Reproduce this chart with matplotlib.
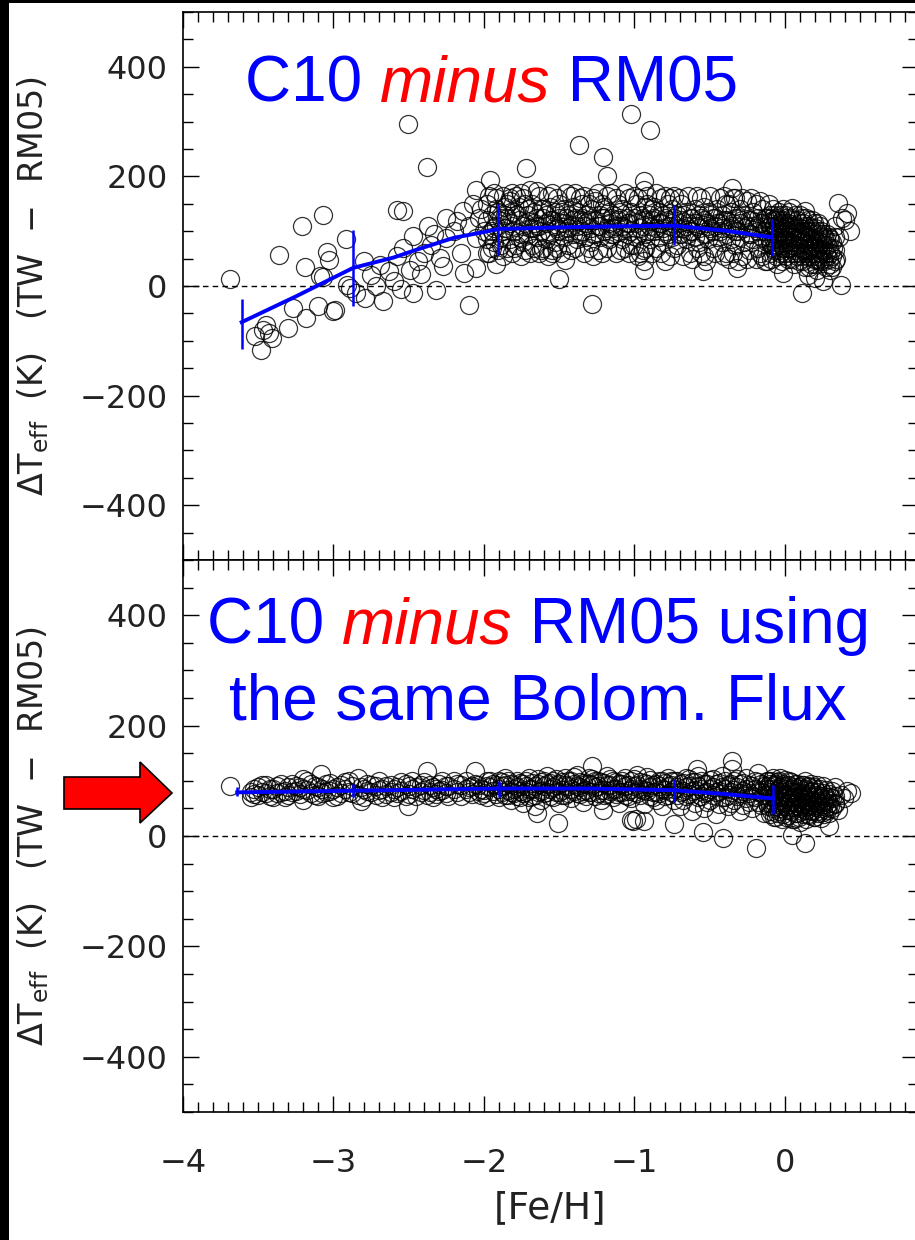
import numpy as np
import matplotlib
matplotlib.use('Agg')
import matplotlib.pyplot as plt
from matplotlib.patches import Rectangle, Polygon
from matplotlib.ticker import MultipleLocator

# Teff differences C10 - RM05 against [Fe/H]

# top panel: scattered stars (one value each)
top_feh = [-3.69, -3.36, -3.21, -3.07, -3.19, -3.04, -3.03, -2.92, -3.07, -3.09,
           -2.91, -2.89, -2.80, -2.79, -2.67, -2.69, -2.85, -3.27, -3.10, -3.18,
           -3.00, -2.99, -3.30, -3.45, -3.52, -3.41, -3.48, -3.47, -3.43, -2.58,
           -2.54, -2.47, -2.54, -2.58, -2.63, -2.49, -2.47, -2.42, -2.37, -2.32,
           -2.29, -2.25, -2.25, -2.27, -2.18, -2.14, -2.10, -2.13, -2.05, -2.07,
           -2.03, -2.05, -2.05, -2.505, -2.38, -2.75, -2.72, -2.60, -2.55, -2.40,
           -2.35, -2.20, -2.15, -2.10, -2.02, -2.00, -2.33, -2.44,
           -1.96, -1.65, -1.83, -1.72, -1.37, -1.21, -1.18, -1.02, -0.90, -0.94,
           -0.94, -1.50, -1.28, -0.94, -0.94, -0.80, -1.46, -1.55,
           -0.35, -0.33, -0.545, -0.32, -0.12,
           0.35, 0.41, 0.38, 0.05, 0.13, 0.11, 0.37, 0.25, -0.01, 0.33,
           0.36, 0.32, 0.40, 0.34, 0.20, 0.15, 0.43, 0.30]
top_dt = [13, 57, 110, 129, 34, 62, 48, 86, 16, 18,
          2, -4, 45, -22, -27, 39, -13, -40, -37, -58,
          -46, -43, -77, -71, -92, -95, -116, -80, -85, 139,
          136, 91, 69, 54, 27, 30, -13, 21, 109, -7,
          51, 124, 88, 36, 118, 136, -34, 24, 176, 149,
          124, 88, 33, 296, 217, 20, 0, 10, -5, 60,
          75, 100, 60, 110, 140, 100, 95, 45,
          194, 173, 161, 215, 258, 235, 200, 313, 285, 191,
          176, 12, -33, 30, 45, 46, 48, 60,
          179, 161, 27, 33, 45,
          152, 133, 125, 142, 137, -13, 2, 9, 24, 110,
          90, 70, 120, 50, 15, 20, 100, 30]

# top panel: dense band, [Fe/H] column -> values in that column
top_cols = [
    (-1.98, [150, 120, 85, 60]), (-1.95, [130, 100, 70]), (-1.92, [160, 110, 140, 40]),
    (-1.89, [125, 90, 75]), (-1.86, [145, 105, 130]), (-1.83, [115, 85, 155]),
    (-1.80, [135, 100, 70]), (-1.77, [120, 145, 90]), (-1.74, [110, 160, 80]),
    (-1.71, [130, 95, 140]), (-1.68, [105, 150, 75]), (-1.65, [125, 90, 110]),
    (-1.62, [140, 100, 65]), (-1.59, [115, 130, 85]), (-1.56, [95, 145, 120]),
    (-1.53, [110, 80, 135]), (-1.50, [125, 100, 150]), (-1.47, [90, 115, 140]),
    (-1.44, [130, 105, 75]), (-1.41, [120, 95, 145]), (-1.38, [110, 135, 85]),
    (-1.35, [100, 125, 150]), (-1.32, [115, 90, 130]), (-1.29, [105, 140, 80]),
    (-1.26, [120, 95, 155]), (-1.23, [110, 130, 90]), (-1.20, [100, 125, 145]),
    (-1.17, [115, 85, 135]), (-1.14, [105, 130, 95]), (-1.11, [120, 100, 150]),
    (-1.08, [110, 140, 85]), (-1.05, [125, 95, 115]), (-1.02, [100, 135, 75]),
    (-0.99, [115, 150, 90]), (-0.96, [130, 105, 60]), (-0.93, [120, 145, 95, 70]),
    (-0.90, [110, 130, 85]), (-0.87, [125, 100, 145]), (-0.84, [115, 90, 135]),
    (-0.81, [105, 130, 80]), (-0.78, [120, 150, 95]),
    (-0.75, [115, 90, 140]), (-0.72, [105, 130, 75]), (-0.69, [120, 95, 150]),
    (-0.66, [110, 85, 135]), (-0.63, [100, 125, 60]), (-0.60, [115, 140, 90]),
    (-0.57, [105, 80, 130]), (-0.54, [120, 95, 145, 55]), (-0.51, [110, 85, 135]),
    (-0.48, [100, 125, 70]), (-0.45, [115, 90, 140]), (-0.42, [105, 130, 80]),
    (-0.39, [95, 120, 150, 60]), (-0.36, [110, 85, 135]), (-0.33, [100, 125, 75]),
    (-0.30, [115, 90, 140]), (-0.27, [105, 80, 130]), (-0.24, [95, 120, 65]),
    (-0.21, [110, 85, 135]), (-0.18, [100, 125, 70]), (-0.15, [90, 115, 140, 55]),
    (-0.12, [105, 80, 125]),
    (-0.10, [110, 80, 130, 60]), (-0.08, [95, 70, 120, 140]), (-0.06, [105, 85, 55, 125]),
    (-0.04, [90, 115, 65, 135]), (-0.02, [100, 75, 120, 45]), (0.00, [85, 110, 60, 130, 95]),
    (0.02, [95, 70, 115, 50]), (0.04, [80, 105, 125, 60]), (0.06, [90, 65, 110, 40]),
    (0.08, [100, 75, 120, 55]), (0.10, [85, 60, 105, 130]), (0.12, [95, 70, 115, 45]),
    (0.14, [80, 100, 60, 125]), (0.16, [90, 65, 110, 35]), (0.18, [75, 100, 55, 120]),
    (0.20, [85, 60, 105, 40]), (0.22, [70, 95, 50, 115]), (0.24, [80, 60, 100]),
    (0.26, [65, 90, 45]), (0.28, [75, 55, 95]), (0.30, [60, 85, 40]),
]
# second layer of the same band (stars in between the columns above)
top_cols_b = [
    (-1.965, [165, 95, 60]), (-1.935, [105, 170, 80]), (-1.905, [120, 65, 135]),
    (-1.875, [100, 165, 55]), (-1.845, [125, 70, 150]), (-1.815, [110, 170, 60]),
    (-1.785, [130, 75, 165]), (-1.755, [95, 170, 55]), (-1.725, [115, 150, 65]),
    (-1.695, [105, 175, 60]), (-1.665, [135, 70, 115]), (-1.635, [110, 165, 60]),
    (-1.605, [125, 70, 140]), (-1.575, [100, 165, 55]), (-1.545, [120, 65, 170]),
    (-1.515, [105, 160, 70]), (-1.485, [115, 60, 135]), (-1.455, [100, 125, 170]),
    (-1.425, [110, 165, 65]), (-1.395, [125, 70, 170]), (-1.365, [95, 120, 160]),
    (-1.335, [110, 165, 60]), (-1.305, [120, 70, 150]), (-1.275, [95, 160, 55]),
    (-1.245, [110, 170, 65]), (-1.215, [125, 60, 150]), (-1.185, [105, 165, 70]),
    (-1.155, [95, 125, 170]), (-1.125, [110, 160, 60]), (-1.095, [125, 65, 135]),
    (-1.065, [105, 170, 70]), (-1.035, [115, 60, 160]), (-1.005, [125, 75, 165]),
    (-0.975, [95, 160, 55]), (-0.945, [110, 125, 65]), (-0.915, [100, 165, 150]),
    (-0.885, [120, 60, 140]), (-0.855, [105, 170, 70]), (-0.825, [115, 60, 160]),
    (-0.795, [100, 125, 165]), (-0.765, [110, 160, 55]), (-0.735, [125, 70, 165]),
    (-0.705, [95, 115, 160]), (-0.675, [130, 105, 55]), (-0.645, [115, 165, 95]),
    (-0.615, [100, 125, 50]), (-0.585, [110, 165, 70]), (-0.555, [125, 60, 160]),
    (-0.525, [95, 115, 45]), (-0.495, [130, 105, 165]), (-0.465, [110, 60, 125]),
    (-0.435, [100, 160, 115]), (-0.405, [120, 55, 165]), (-0.375, [105, 150, 50]),
    (-0.345, [115, 60, 160]), (-0.315, [100, 125, 45]), (-0.285, [120, 55, 160]),
    (-0.255, [110, 155, 50]), (-0.225, [95, 120, 160]), (-0.195, [105, 150, 50]),
    (-0.165, [115, 60, 155]), (-0.135, [100, 125, 45]), (-0.105, [90, 115, 150]),
    (-0.09, [100, 75, 125, 50]), (-0.07, [85, 110, 65, 130]), (-0.05, [95, 75, 120, 40]),
    (-0.03, [105, 80, 130, 60]), (-0.01, [90, 70, 115, 140]), (0.01, [100, 80, 125, 55]),
    (0.03, [90, 70, 110, 135]), (0.05, [95, 75, 120, 50]), (0.07, [85, 105, 60, 130]),
    (0.09, [90, 70, 115, 45]), (0.11, [80, 100, 55, 125]), (0.13, [90, 65, 110, 35]),
    (0.15, [75, 100, 55, 120]), (0.17, [85, 60, 105, 40]), (0.19, [70, 95, 50, 115]),
    (0.21, [80, 55, 100, 30]), (0.23, [65, 90, 45, 110]), (0.25, [75, 50, 95]),
    (0.27, [60, 85, 35]), (0.29, [70, 50, 90]), (0.31, [55, 80, 35]), (0.33, [65, 45, 90]),
]

# bottom panel (same bolometric flux): scattered stars
bot_feh = [-3.69, -3.08, -2.505, -2.38, -2.06,
           -1.51, -1.65, -1.28, -1.02, -0.99, -1.21, -0.94, -1.01, -0.74,
           -0.585, -0.35, -0.35, -0.18,
           0.05, 0.13, 0.29, 0.41, 0.37, 0.35, 0.33, 0.39, 0.44,
           -0.19, -0.41, -0.545]
bot_dt = [90, 113, 55, 118, 118,
          24, 42, 127, 29, 31, 47, 27, 27, 21,
          121, 136, 121, 115,
          2, -13, 18, 81, 75, 47, 60, 68, 78,
          -22, -4, 8]

bot_cols = [
    (-3.55, [80, 70]), (-3.50, [88, 75]), (-3.45, [78, 92]), (-3.40, [85, 70]),
    (-3.35, [95, 80]), (-3.30, [75, 88]), (-3.25, [90, 82]), (-3.20, [104, 66, 85]),
    (-3.15, [78, 95]), (-3.10, [88, 72]), (-3.05, [80, 95]), (-3.00, [85, 70]),
    (-2.95, [92, 78]), (-2.90, [80, 100]), (-2.84, [105, 75]), (-2.82, [63, 88]),
    (-2.78, [82, 95]), (-2.72, [75, 90]), (-2.68, [85, 70]), (-2.62, [92, 80]),
    (-2.58, [78, 88]), (-2.52, [95, 72]), (-2.48, [85, 100]), (-2.42, [80, 92]),
    (-2.38, [75]), (-2.34, [88, 70]), (-2.30, [95, 82]), (-2.25, [78, 90]),
    (-2.20, [100, 85]), (-2.15, [72, 92]), (-2.10, [88, 80]), (-2.06, [95]),
    (-2.02, [75, 85]), (-1.98, [90, 70, 100]), (-1.94, [82, 95]),
    (-1.90, [85, 100, 70]), (-1.86, [92, 75, 105]), (-1.82, [80, 95, 65]),
    (-1.78, [88, 100, 72]), (-1.74, [95, 78, 60]), (-1.70, [85, 105, 70]),
    (-1.66, [90, 75, 55]), (-1.62, [82, 98, 65]), (-1.58, [95, 80, 108]),
    (-1.54, [88, 70, 100]), (-1.50, [80, 95, 60]), (-1.46, [92, 75, 105]),
    (-1.42, [85, 100, 68]), (-1.38, [90, 78, 110]), (-1.34, [82, 96, 62]),
    (-1.30, [95, 80, 105]), (-1.26, [88, 72, 100]), (-1.22, [84, 98, 65]),
    (-1.18, [92, 76, 108]), (-1.14, [86, 100, 70]), (-1.10, [80, 95, 60]),
    (-1.06, [90, 75, 105]), (-1.02, [85, 100, 68]), (-0.98, [92, 78, 110]),
    (-0.94, [84, 96, 58]), (-0.90, [88, 72, 102]), (-0.86, [95, 80, 65]),
    (-0.82, [86, 100, 55]), (-0.78, [90, 75, 105]),
    (-0.74, [85, 100, 65]), (-0.70, [80, 95, 55]), (-0.66, [88, 72, 105]),
    (-0.62, [82, 98, 45]), (-0.58, [90, 70, 108]), (-0.54, [78, 95, 50]),
    (-0.50, [86, 65, 102]), (-0.46, [80, 95, 40]), (-0.42, [88, 70, 108]),
    (-0.38, [75, 92, 55]), (-0.34, [84, 65, 100]), (-0.30, [78, 95, 45]),
    (-0.26, [86, 68, 105]), (-0.22, [72, 90, 50]), (-0.18, [80, 62, 98]),
    (-0.14, [74, 90, 42]), (-0.12, [85, 60, 100]),
    (-0.10, [80, 60, 95, 40]), (-0.08, [70, 90, 50, 105]), (-0.06, [78, 55, 95, 35]),
    (-0.04, [65, 85, 45, 100]), (-0.02, [75, 55, 90, 30]), (0.00, [68, 85, 48, 102]),
    (0.02, [72, 58, 92, 38]), (0.04, [62, 80, 45, 98]), (0.06, [70, 52, 88, 30]),
    (0.08, [60, 78, 42, 95]), (0.10, [68, 50, 85, 25]), (0.12, [58, 75, 40, 92]),
    (0.14, [65, 48, 82, 30]), (0.16, [55, 72, 38, 88]), (0.18, [62, 45, 80]),
    (0.20, [52, 70, 35, 85]), (0.22, [60, 42, 75]), (0.24, [50, 68, 32]),
    (0.26, [58, 40, 72]), (0.28, [48, 65]), (0.30, [55, 70]),
]
bot_cols_b = [
    (-3.525, [85, 76]), (-3.475, [80, 92]), (-3.425, [72, 86]), (-3.375, [90, 78]),
    (-3.325, [82, 70]), (-3.275, [95, 80]), (-3.225, [76, 88]), (-3.175, [84, 100]),
    (-3.125, [90, 74]), (-3.075, [78, 86]), (-3.025, [96, 82]), (-2.975, [72, 88]),
    (-2.925, [85, 98]), (-2.875, [78, 90]), (-2.80, [70, 85]), (-2.75, [92, 80]),
    (-2.70, [84, 100]), (-2.65, [76, 90]), (-2.60, [86, 70]), (-2.55, [82, 98]),
    (-2.50, [90, 76]), (-2.45, [72, 88]), (-2.40, [84, 98]), (-2.36, [92, 80]),
    (-2.32, [76, 86]), (-2.28, [84, 100]), (-2.24, [90, 72]), (-2.18, [80, 95]),
    (-2.12, [86, 100]), (-2.08, [76, 90]), (-2.04, [92, 82]), (-2.00, [84, 78]),
    (-1.96, [100, 88]), (-1.92, [76, 92]),
    (-1.88, [90, 80, 98]), (-1.84, [84, 100, 74]), (-1.80, [92, 78, 86]),
    (-1.76, [82, 96, 70]), (-1.72, [90, 100, 80]), (-1.68, [86, 72, 96]),
    (-1.64, [94, 80, 104]), (-1.60, [78, 90, 100]), (-1.56, [86, 96, 72]),
    (-1.52, [92, 80, 104]), (-1.48, [84, 98, 74]), (-1.44, [90, 78, 100]),
    (-1.40, [82, 94, 106]), (-1.36, [88, 76, 98]), (-1.32, [94, 84, 72]),
    (-1.28, [80, 92, 104]), (-1.24, [90, 78, 100]), (-1.20, [84, 96, 74]),
    (-1.16, [92, 82, 104]), (-1.12, [86, 98, 76]), (-1.08, [94, 80, 100]),
    (-1.04, [82, 92, 72]), (-1.00, [90, 104, 80]), (-0.96, [86, 74, 98]),
    (-0.92, [94, 82, 106]), (-0.88, [80, 92, 70]), (-0.84, [90, 100, 78]),
    (-0.80, [84, 96, 72]), (-0.76, [92, 80, 100]),
    (-0.72, [88, 74, 100]), (-0.68, [82, 96, 66]), (-0.64, [90, 76, 104]),
    (-0.60, [84, 98, 60]), (-0.56, [86, 72, 100]), (-0.52, [80, 94, 62]),
    (-0.48, [88, 74, 104]), (-0.44, [82, 96, 58]), (-0.40, [86, 70, 100]),
    (-0.36, [80, 94, 60]), (-0.32, [88, 72, 104]), (-0.28, [82, 96, 56]),
    (-0.24, [78, 92, 62]), (-0.20, [86, 70, 100]), (-0.16, [80, 94, 56]),
    (-0.11, [75, 90, 55, 100]), (-0.09, [85, 65, 100, 45]), (-0.07, [72, 92, 55, 35]),
    (-0.05, [82, 62, 98, 42]), (-0.03, [70, 88, 50, 105]), (-0.01, [80, 62, 95, 40]),
    (0.01, [74, 90, 55, 35]), (0.03, [84, 66, 100, 48]), (0.05, [70, 86, 52, 30]),
    (0.07, [80, 62, 95, 42]), (0.09, [72, 88, 55, 35]), (0.11, [78, 60, 92, 45]),
    (0.13, [70, 85, 52, 100]), (0.15, [76, 58, 90, 40]), (0.17, [66, 82, 48, 95]),
    (0.19, [74, 56, 88, 35]), (0.21, [64, 80, 46, 92]), (0.23, [72, 54, 86]),
    (0.25, [62, 78, 44, 90]), (0.27, [70, 52, 84]), (0.29, [60, 76, 42]),
    (0.31, [68, 50, 82]), (0.33, [58, 72, 88]),
]

# blue mean relations with error bars at the knots
top_fit_feh = [-3.61, -3.25, -2.87, -2.6, -2.45, -2.2, -2.01, -1.905, -1.5, -1.1, -0.735, -0.4, -0.089]
top_fit_dt = [-66, -19, 33, 52, 66, 88, 98, 104, 107, 109, 110, 101, 89]
top_knot_feh = [-3.61, -2.87, -1.905, -0.735, -0.089]
top_knot_lo = [-115, -36, 57, 74, 54]
top_knot_hi = [-23, 103, 150, 147, 123]

bot_fit_feh = [-3.64, -2.87, -1.9, -1.3, -0.74, -0.4, -0.08]
bot_fit_dt = [79, 82, 86, 86, 83, 76, 68]
bot_knot_feh = [-3.64, -2.87, -1.9, -0.74, -0.08]
bot_knot_lo = [72, 71, 71, 62, 40]
bot_knot_hi = [88, 95, 100, 104, 93]


def expand(*col_lists):
    xs, ys = [], []
    for cols in col_lists:
        for x, vals in cols:
            xs += [x] * len(vals)
            ys += vals
    return xs, ys


W, H = 915, 1240
fig = plt.figure(figsize=(W / 100, H / 100), dpi=100)
fig.patch.set_facecolor('white')

ax1 = fig.add_axes([183 / W, 1 - 560 / H, 735 / W, 548 / H])
ax2 = fig.add_axes([183 / W, 1 - 1112 / H, 735 / W, 552 / H])

panels = [
    (ax1, top_feh, top_dt, (top_cols, top_cols_b), top_fit_feh, top_fit_dt,
     top_knot_feh, top_knot_lo, top_knot_hi),
    (ax2, bot_feh, bot_dt, (bot_cols, bot_cols_b), bot_fit_feh, bot_fit_dt,
     bot_knot_feh, bot_knot_lo, bot_knot_hi),
]
ylab = r'$\Delta$T$_{\rm eff}$  (K)   (TW  $-$  RM05)'
for ax, sf, sd, cols, ff, fd, kf, klo, khi in panels:
    cx, cy = expand(*cols)
    ax.plot(cx + sf, cy + sd, 'o', mfc='none', mec='k', ms=13, mew=0.9, alpha=0.8)
    ax.axhline(0, color='k', lw=1, ls=(0, (4, 3)))
    ax.plot(ff, fd, color='blue', lw=2.8)
    ax.vlines(kf, klo, khi, color='blue', lw=1.8)
    ax.set_xlim(-4, 0.884)
    ax.set_ylim(-500, 500)
    ax.xaxis.set_major_locator(MultipleLocator(1))
    ax.xaxis.set_minor_locator(MultipleLocator(0.1))
    ax.yaxis.set_major_locator(MultipleLocator(200))
    ax.yaxis.set_minor_locator(MultipleLocator(50))
    ax.tick_params(which='both', direction='in', top=True, right=True,
                   labelsize=23, labelcolor='#222222', width=1.0)
    ax.tick_params(which='major', length=11.5)
    ax.tick_params(which='minor', length=7)
    ax.tick_params(axis='y', pad=11)
    for s in ax.spines.values():
        s.set_linewidth(1.2)
    ax.set_ylabel(ylab, fontsize=24, color='#222222', va='center')
    ax.yaxis.set_label_coords(-0.204, 0.5)

ax1.tick_params(axis='x', labelbottom=False)
ax2.tick_params(axis='x', pad=26)
ax2.set_xlabel('[Fe/H]', fontsize=27, color='#222222', labelpad=8)

# coloured titles
renderer = fig.canvas.get_renderer()
tkw = dict(fontsize=46, family='Liberation Sans')


def width(s, style):
    t = fig.text(0, 0, s, fontstyle=style, **tkw)
    w = t.get_window_extent(renderer).width
    t.remove()
    return w


def colored_line(x, y, parts):
    for s, color, style in parts:
        fig.text(x / W, 1 - y / H, s, color=color, fontstyle=style, va='baseline', **tkw)
        x += width(s + '|', style) - width('|', style)


colored_line(245, 102, [('C10 ', 'blue', 'normal'), ('minus', 'red', 'italic'),
                        (' RM05', 'blue', 'normal')])
colored_line(207, 643, [('C10 ', 'blue', 'normal'), ('minus', 'red', 'italic'),
                        (' RM05 using', 'blue', 'normal')])
fig.text(538 / W, 1 - 720 / H, 'the same Bolom. Flux', color='blue', ha='center',
         va='baseline', **tkw)

# red arrow pointing at the offset
arrow = [(64, 777), (140, 777), (140, 762), (172, 793), (140, 823), (140, 809), (64, 809)]
fig.patches.append(Polygon([(x / W, 1 - y / H) for x, y in arrow], closed=True,
                           facecolor='red', edgecolor='black', lw=1.2,
                           transform=fig.transFigure))

# black frame remnants at left and top
fig.patches.append(Rectangle((0, 0), 9 / W, 1, facecolor='black', edgecolor='none',
                             transform=fig.transFigure))
fig.patches.append(Rectangle((0, 1 - 3 / H), 1, 3 / H, facecolor='black', edgecolor='none',
                             transform=fig.transFigure))

fig.savefig('out.png', dpi=100)
